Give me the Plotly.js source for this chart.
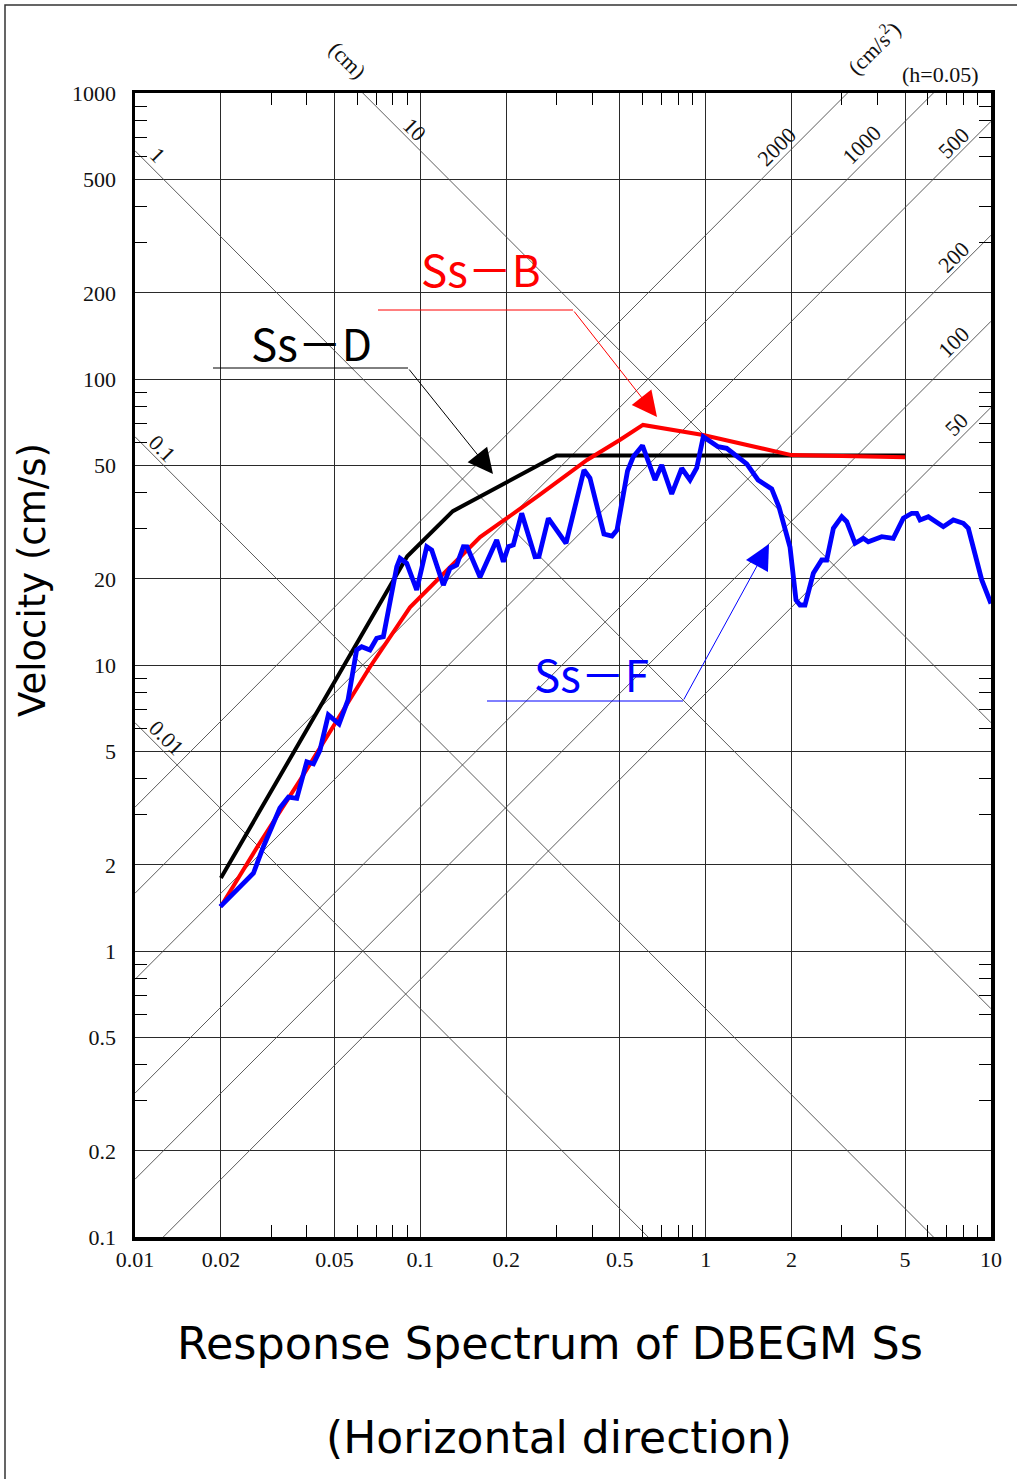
<!DOCTYPE html>
<html>
<head>
<meta charset="utf-8">
<script src="https://cdn.plot.ly/plotly-3.0.1.min.js"></script>
<style>html,body{margin:0;padding:0;background:#fff;}#chart{width:1017px;height:1479px;}</style>
</head>
<body>
<div id="chart"></div>
<script>
// ---------- axis ticks ----------
const xMajor = [0.01, 0.02, 0.05, 0.1, 0.2, 0.5, 1, 2, 5, 10];
const xMajorText = ['0.01', '0.02', '0.05', '0.1', '0.2', '0.5', '1', '2', '5', '10'];
const xMinor = [0.03, 0.04, 0.06, 0.07, 0.08, 0.09, 0.3, 0.4, 0.6, 0.7, 0.8, 0.9, 3, 4, 6, 7, 8, 9];
const yMajor = [0.1, 0.2, 0.5, 1, 2, 5, 10, 20, 50, 100, 200, 500, 1000];
const yMajorText = ['0.1', '0.2', '0.5', '1', '2', '5', '10', '20', '50', '100', '200', '500', '1000'];
const yMinor = [0.3, 0.4, 0.6, 0.7, 0.8, 0.9, 3, 4, 6, 7, 8, 9, 30, 40, 60, 70, 80, 90, 300, 400, 600, 700, 800, 900];

// ---------- tripartite guide lines ----------
const dispVals = [0.01, 0.1, 1, 10];              // cm
const dispLabels = ['0.01', '0.1', '1', '10'];
const accVals = [50, 100, 200, 500, 1000, 2000];  // cm/s^2
const accLabels = ['50', '100', '200', '500', '1000', '2000'];
const periodEnds = [0.01, 10];

// ---------- spectra ----------
const sdT = [0.02, 0.09, 0.13, 0.30, 5.0];
const sdV = [1.8, 24, 34.5, 54, 54];

const sbT = [0.02, 0.0274, 0.0379, 0.0523, 0.0666, 0.092, 0.117, 0.162, 0.256, 0.384, 0.50, 0.603, 0.98, 2.0, 5.0];
const sbV = [1.43, 2.39, 3.96, 6.69, 9.84, 15.9, 20.3, 28.0, 38.7, 52.1, 61.2, 69.1, 63.7, 54.2, 53.3];

const sfT = [0.0199, 0.026, 0.0282, 0.0322, 0.0345, 0.0369, 0.040, 0.0422, 0.0445, 0.0476,
             0.0519, 0.0558, 0.0598, 0.0623, 0.0666, 0.0703, 0.0742, 0.0783, 0.0827, 0.0849,
             0.0896, 0.0971, 0.1053, 0.1096, 0.1172, 0.1204, 0.127, 0.1341, 0.1415, 0.1458,
             0.1619, 0.1685, 0.1852, 0.1954, 0.2034, 0.2118, 0.2266, 0.2523, 0.2605, 0.281,
             0.324, 0.3746, 0.393, 0.4401, 0.4697, 0.489, 0.5322, 0.5578, 0.6006, 0.6645,
             0.7015, 0.7603, 0.8241, 0.8813, 0.9302, 0.981, 1.105, 1.185, 1.393, 1.526,
             1.704, 1.807, 1.975, 2.073, 2.141, 2.229, 2.384, 2.551, 2.656, 2.803,
             2.999, 3.122, 3.338, 3.569, 3.715, 4.14, 4.546, 4.928, 5.275, 5.492,
             5.64, 6.03, 6.806, 7.379, 7.998, 8.327, 9.28, 10];
const sfV = [1.43, 1.87, 2.32, 3.16, 3.45, 3.42, 4.59, 4.51, 5.04, 6.69,
             6.22, 7.55, 11.28, 11.59, 11.28, 12.40, 12.56, 16.88, 22.07, 23.62,
             22.68, 18.29, 25.93, 25.24, 20.35, 19.04, 21.78, 22.37, 25.93, 25.9,
             20.31, 22.07, 27.35, 22.97, 25.93, 26.29, 33.92, 23.92, 23.95, 32.58,
             26.64, 48.07, 45.06, 28.71, 28.25, 29.65, 47.69, 53.5, 58.55, 44.36,
             50.04, 39.62, 48.74, 44.36, 48.86, 62.84, 57.99, 57.24, 50.45, 44.36,
             41.26, 35.68, 25.86, 16.88, 16.21, 16.21, 20.92, 23.29, 23.29, 30.06,
             33.0, 31.70, 26.64, 27.73, 26.98, 28.09, 27.73, 32.58, 33.92, 33.92,
             32.14, 33.0, 30.45, 32.14, 31.30, 30.06, 19.83, 16.4];

// ---------- geometry helpers (plot area in page pixels) ----------
const PL = 135, PR = 991, PT = 93, PB = 1237;
const PW = PR - PL, PH = PB - PT;
const PX = px => (px - PL) / PW;
const PY = py => (PB - py) / PH;

const traces = [];
const guide = {mode: 'lines', line: {color: '#4a4a4a', width: 0.9}, hoverinfo: 'skip', showlegend: false};
dispVals.forEach(D => traces.push(Object.assign({}, guide, {
  x: periodEnds, y: periodEnds.map(T => 2 * Math.PI * D / T)})));
accVals.forEach(A => traces.push(Object.assign({}, guide, {
  x: periodEnds, y: periodEnds.map(T => A * T / (2 * Math.PI))})));

traces.push({x: sdT, y: sdV, mode: 'lines', name: 'Ss-D', line: {color: '#000000', width: 4}, showlegend: false});
traces.push({x: sbT, y: sbV, mode: 'lines', name: 'Ss-B', line: {color: '#ff0000', width: 4}, showlegend: false});
traces.push({x: sfT, y: sfV, mode: 'lines', name: 'Ss-F', line: {color: '#0000ff', width: 4.8}, showlegend: false});
traces.push({x: [], y: [], xaxis: 'x2', yaxis: 'y2', mode: 'lines', showlegend: false, hoverinfo: 'skip'});

const serif = {family: 'Liberation Serif, serif', size: 22, color: '#111'};
const gothic = 'Noto Sans CJK JP, Noto Sans, sans-serif';
const wide = 'DejaVu Sans, sans-serif';

const ann = [];
function lab(text, px, py, angle, font) {
  ann.push({text: text, xref: 'paper', yref: 'paper', x: PX(px), y: PY(py), xanchor: 'center', yanchor: 'middle',
            showarrow: false, textangle: angle, font: font || serif});
}
// displacement labels
const dispPos = [[166, 738], [162, 449], [157, 155], [415, 129]];
dispLabels.forEach((t, i) => lab(t, dispPos[i][0], dispPos[i][1], 45));
lab('(cm)', 348, 60, 45);
// acceleration labels
const accPos = [[956, 424], [953, 342], [953, 257], [953, 143], [862, 145], [777, 147]];
accLabels.forEach((t, i) => lab(t, accPos[i][0], accPos[i][1], -45));
lab('(cm/s<sup>2</sup>)', 873, 47, -45);
lab('(h=0.05)', 940, 75, 0);

// titles
lab('Velocity (cm/s)', 32, 580, -90, {family: wide, size: 37, color: '#000'});
lab('Response Spectrum of DBEGM Ss', 550, 1343, 0, {family: wide, size: 44.5, color: '#000'});
lab('(Horizontal direction)', 559, 1437, 0, {family: wide, size: 44, color: '#000'});

// series labels
lab('Ss－B', 481, 268, 0, {family: gothic, size: 44, color: '#ff0000'});
lab('Ss－D', 311, 342, 0, {family: gothic, size: 44, color: '#000000'});
lab('Ss－F', 591, 673, 0, {family: gothic, size: 44, color: '#0000ff'});

// leader arrows
function arrow(tailX, tailY, tipX, tipY, color) {
  ann.push({text: '', xref: 'paper', yref: 'paper', x: PX(tipX), y: PY(tipY), ax: tailX - tipX, ay: tailY - tipY,
            showarrow: true, arrowhead: 2, arrowsize: 5, arrowwidth: 1, arrowcolor: color, standoff: 0});
}
arrow(573, 310, 657, 417, '#ff0000');
arrow(408, 368, 493, 474, '#000000');
arrow(683, 701, 769, 544, '#0000ff');

const shapes = [
  {type: 'line', xref: 'paper', yref: 'paper', x0: PX(378), x1: PX(573), y0: PY(310), y1: PY(310), line: {color: '#ff0000', width: 1}},
  {type: 'line', xref: 'paper', yref: 'paper', x0: PX(213), x1: PX(408), y0: PY(368), y1: PY(368), line: {color: '#000000', width: 1}},
  {type: 'line', xref: 'paper', yref: 'paper', x0: PX(487), x1: PX(683), y0: PY(701), y1: PY(701), line: {color: '#0000ff', width: 1}},
  {type: 'rect', xref: 'paper', yref: 'paper', x0: PX(5), x1: PX(1030), y0: PY(1500), y1: PY(5), line: {color: '#333', width: 1.5}, fillcolor: 'rgba(0,0,0,0)'}
];

const layout = {
  width: 1017, height: 1479,
  margin: {l: PL, r: 1017 - PR, t: PT, b: 1479 - PB, pad: 0},
  paper_bgcolor: '#fff', plot_bgcolor: '#fff',
  showlegend: false,
  xaxis: {type: 'log', range: [-2, 1], tickmode: 'array', tickvals: xMajor, ticktext: xMajorText,
          showgrid: true, gridcolor: '#2a2a2a', gridwidth: 1, zeroline: false,
          showline: true, linecolor: '#000', linewidth: 3.5, mirror: true, ticks: '',
          tickfont: serif, ticklabelstandoff: 0,
          minor: {tickmode: 'array', tickvals: xMinor, ticks: 'inside', ticklen: 12, tickcolor: '#000', tickwidth: 1, showgrid: false}},
  yaxis: {type: 'log', range: [-1, 3], tickmode: 'array', tickvals: yMajor, ticktext: yMajorText,
          showgrid: true, gridcolor: '#2a2a2a', gridwidth: 1, zeroline: false,
          showline: true, linecolor: '#000', linewidth: 3.5, mirror: true, ticks: '',
          tickfont: serif, ticklabelstandoff: 11,
          minor: {tickmode: 'array', tickvals: yMinor, ticks: 'inside', ticklen: 12, tickcolor: '#000', tickwidth: 1, showgrid: false}},
  xaxis2: {type: 'log', range: [-2, 1], overlaying: 'x', side: 'top', tickmode: 'array', tickvals: xMinor,
           ticks: 'inside', ticklen: 12, tickcolor: '#000', tickwidth: 1, showticklabels: false, showgrid: false, showline: false, zeroline: false},
  yaxis2: {type: 'log', range: [-1, 3], overlaying: 'y', side: 'right', tickmode: 'array', tickvals: yMinor,
           ticks: 'inside', ticklen: 12, tickcolor: '#000', tickwidth: 1, showticklabels: false, showgrid: false, showline: false, zeroline: false},
  annotations: ann,
  shapes: shapes
};

Plotly.newPlot('chart', traces, layout, {displayModeBar: false, staticPlot: true});
</script>
</body>
</html>
